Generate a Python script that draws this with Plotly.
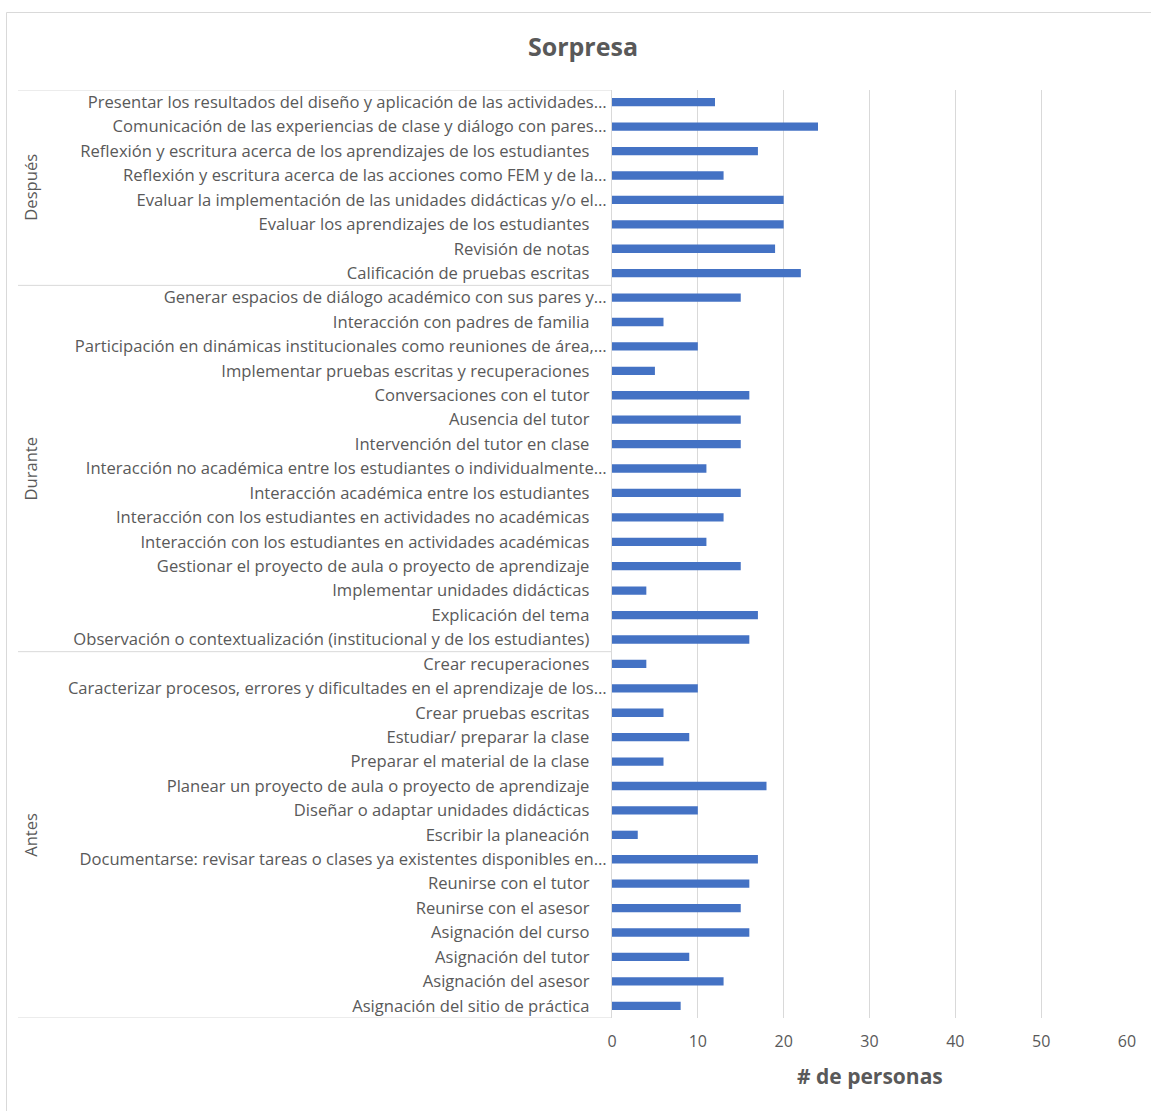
import plotly.graph_objects as go

# Activities per phase, listed bottom-to-top as they appear on the axis
antes_labels = [
    "Asignación del sitio de práctica",
    "Asignación del asesor",
    "Asignación del tutor",
    "Asignación del curso",
    "Reunirse con el asesor",
    "Reunirse con el tutor",
    "Documentarse: revisar tareas o clases ya existentes disponibles en…",
    "Escribir la planeación",
    "Diseñar o adaptar unidades didácticas",
    "Planear un proyecto de aula o proyecto de aprendizaje",
    "Preparar el material de la clase",
    "Estudiar/ preparar la clase",
    "Crear pruebas escritas",
    "Caracterizar procesos, errores y dificultades en el aprendizaje de los…",
    "Crear recuperaciones",
]
antes_values = [8, 13, 9, 16, 15, 16, 17, 3, 10, 18, 6, 9, 6, 10, 4]

durante_labels = [
    "Observación o contextualización (institucional y de los estudiantes)",
    "Explicación del tema",
    "Implementar unidades didácticas",
    "Gestionar el proyecto de aula o proyecto de aprendizaje",
    "Interacción con los estudiantes en actividades académicas",
    "Interacción con los estudiantes en actividades no académicas",
    "Interacción académica entre los estudiantes",
    "Interacción no académica entre los estudiantes o individualmente…",
    "Intervención del tutor en clase",
    "Ausencia del tutor",
    "Conversaciones con el tutor",
    "Implementar pruebas escritas y recuperaciones",
    "Participación en dinámicas institucionales como reuniones de área,…",
    "Interacción con padres de familia",
    "Generar espacios de diálogo académico con sus pares y…",
]
durante_values = [16, 17, 4, 15, 11, 13, 15, 11, 15, 15, 16, 5, 10, 6, 15]

despues_labels = [
    "Calificación de pruebas escritas",
    "Revisión de notas",
    "Evaluar los aprendizajes de los estudiantes",
    "Evaluar la implementación de las unidades didácticas y/o el…",
    "Reflexión y escritura acerca de las acciones como FEM y de la…",
    "Reflexión y escritura acerca de los aprendizajes de los estudiantes",
    "Comunicación de las experiencias de clase y diálogo con pares…",
    "Presentar los resultados del diseño y aplicación de las actividades…",
]
despues_values = [22, 19, 20, 20, 13, 17, 24, 12]

phase_names = ["Antes", "Durante", "Después"]
x_ticks = [0, 10, 20, 30, 40, 50, 60]

phases = [
    (phase_names[0], antes_labels, antes_values),
    (phase_names[1], durante_labels, durante_values),
    (phase_names[2], despues_labels, despues_values),
]

categories, values = [], []
for _, labels, vals in phases:
    categories += labels
    values += vals

# Full labels end a little short of the axis; truncated ones run up to it
tick_text = [c if c.endswith("…") else c + "\u00a0" * 4 for c in categories]

FIG_W, FIG_H = 1151, 1111
M_L, M_R, M_T, M_B = 612, 24, 90, 93
PLOT_W = FIG_W - M_L - M_R
PLOT_H = FIG_H - M_T - M_B

GREY_TEXT = "#595959"
GREY_LINE = "#D9D9D9"
FONT = "Open Sans"
LABEL_SIZE = 16.6


def paper_x(px):
    return (px - M_L) / PLOT_W


def paper_y(py):
    return (FIG_H - M_B - py) / PLOT_H


fig = go.Figure(
    go.Bar(
        x=values,
        y=categories,
        orientation="h",
        marker=dict(color="#4472C4", line=dict(width=0)),
        hoverinfo="x+y",
    )
)

shapes = []
annotations = []
start = 0
boundaries = [-0.5]
for name, labels, _ in phases:
    end = start + len(labels)
    boundaries.append(end - 0.5)
    annotations.append(
        dict(
            text=name,
            x=paper_x(31),
            xref="paper",
            y=(start + end - 1) / 2,
            yref="y",
            textangle=-90,
            showarrow=False,
            xanchor="center",
            yanchor="middle",
            font=dict(family=FONT, size=LABEL_SIZE, color=GREY_TEXT),
        )
    )
    start = end

# Horizontal separators between the phase groups of the category axis
for b in boundaries:
    shapes.append(
        dict(
            type="line",
            xref="paper",
            yref="y",
            x0=paper_x(18),
            x1=0,
            y0=b,
            y1=b,
            line=dict(color=GREY_LINE, width=1),
        )
    )

# Chart frame
shapes.append(
    dict(
        type="rect",
        xref="paper",
        yref="paper",
        x0=paper_x(6.5),
        x1=paper_x(FIG_W + 20),
        y0=paper_y(FIG_H + 20),
        y1=paper_y(12.5),
        line=dict(color=GREY_LINE, width=1),
        fillcolor="rgba(0,0,0,0)",
        layer="below",
    )
)

# x-axis title
annotations.append(
    dict(
        text="<b># de personas</b>",
        x=0.5,
        xref="paper",
        y=paper_y(1076),
        yref="paper",
        showarrow=False,
        xanchor="center",
        yanchor="middle",
        font=dict(family=FONT, size=21, color=GREY_TEXT),
    )
)

fig.update_layout(
    width=FIG_W,
    height=FIG_H,
    margin=dict(l=M_L, r=M_R, t=M_T, b=M_B, pad=0),
    paper_bgcolor="white",
    plot_bgcolor="white",
    bargap=0.66,
    showlegend=False,
    font=dict(family=FONT, color=GREY_TEXT),
    title=dict(
        text="<b>Sorpresa</b>",
        x=583 / FIG_W,
        xref="container",
        xanchor="center",
        y=1 - 47 / FIG_H,
        yref="container",
        yanchor="middle",
        font=dict(family=FONT, size=25, color=GREY_TEXT),
    ),
    xaxis=dict(
        range=[0, 60],
        tickvals=x_ticks,
        showgrid=True,
        gridcolor=GREY_LINE,
        gridwidth=1,
        zeroline=False,
        showline=False,
        ticks="",
        ticklabelstandoff=12,
        tickfont=dict(family=FONT, size=16, color=GREY_TEXT),
    ),
    yaxis=dict(
        type="category",
        categoryorder="array",
        categoryarray=categories,
        tickvals=categories,
        ticktext=tick_text,
        range=[-0.5, len(categories) - 0.5],
        showgrid=False,
        zeroline=False,
        showline=True,
        linecolor=GREY_LINE,
        linewidth=1,
        ticks="",
        ticklabelstandoff=1,
        tickfont=dict(family=FONT, size=LABEL_SIZE, color=GREY_TEXT),
    ),
    shapes=shapes,
    annotations=annotations,
)

fig.write_html("out.html")
